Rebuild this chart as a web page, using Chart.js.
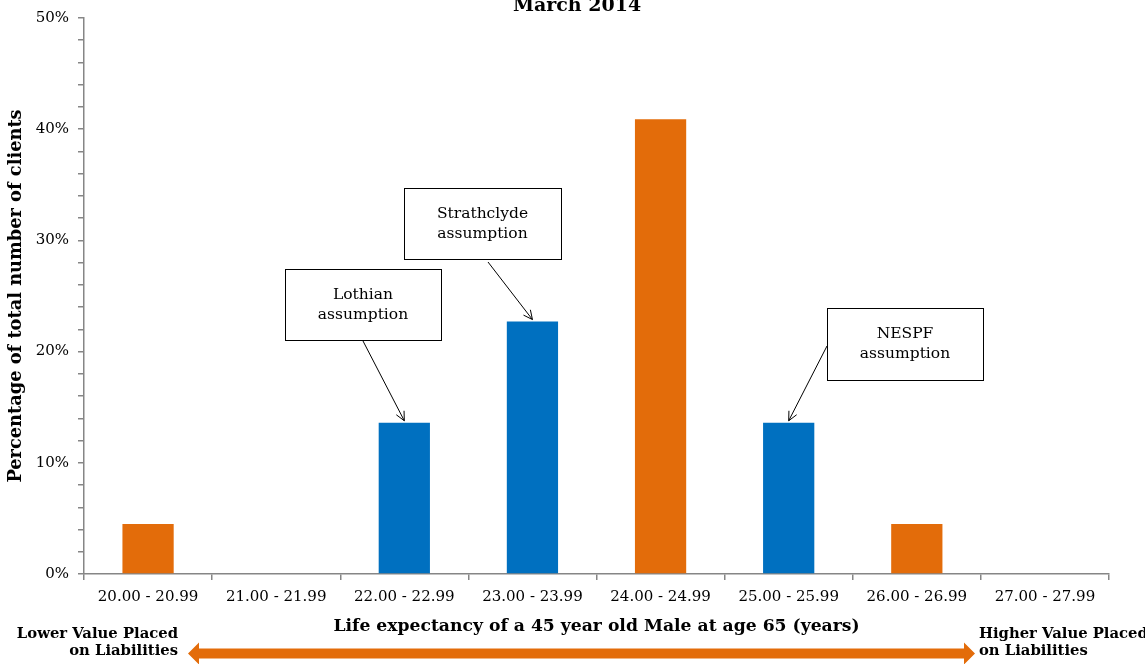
<!DOCTYPE html>
<html>
<head>
<meta charset="utf-8">
<script src="https://cdn.jsdelivr.net/npm/chart.js@4.4.1/dist/chart.umd.min.js"></script>
<style>
  html, body { margin: 0; padding: 0; background: #ffffff; }
  #wrap { width: 1145px; height: 664px; position: relative; }
</style>
</head>
<body>
<div id="wrap"><canvas id="chart" width="1145" height="664"></canvas></div>
<script>
// Life expectancy bands (years) for a 45 year old male at age 65
const categories = ['20.00 - 20.99', '21.00 - 21.99', '22.00 - 22.99', '23.00 - 23.99',
                    '24.00 - 24.99', '25.00 - 25.99', '26.00 - 26.99', '27.00 - 27.99'];
// Share of clients in each band (%)
const shares = [4.5, 0, 13.6, 22.7, 40.9, 13.6, 4.5, 0];
// Bands that hold a named fund's assumption are shown in blue
const fundBand = [false, false, true, true, false, true, false, false];
const yTickLabels = [0, 10, 20, 30, 40, 50];

// Callout boxes pointing at fund bands
const calloutText = [['Lothian', 'assumption'], ['Strathclyde', 'assumption'], ['NESPF', 'assumption']];
const calloutBand = [2, 3, 5];

const ORANGE = '#E36C0A';
const BLUE = '#0070C0';
const AXIS = '#868686';
const SERIF = '"DejaVu Serif", Georgia, serif';

// Box rectangles [x, y, w, h] and where each pointer leaves its box
const calloutBoxes = [[285, 269, 156, 71], [404, 188, 157, 71], [827, 308, 156, 72]];
const calloutFrom = [[363, 341], [488, 262], [827, 346]];

function arrowLine(ctx, x0, y0, x1, y1, head) {
  ctx.beginPath();
  ctx.moveTo(x0, y0);
  ctx.lineTo(x1, y1);
  const a = Math.atan2(y1 - y0, x1 - x0);
  ctx.moveTo(x1 - head * Math.cos(a - 0.45), y1 - head * Math.sin(a - 0.45));
  ctx.lineTo(x1, y1);
  ctx.lineTo(x1 - head * Math.cos(a + 0.45), y1 - head * Math.sin(a + 0.45));
  ctx.stroke();
}

const decorations = {
  id: 'decorations',
  afterDraw(chart) {
    const ctx = chart.ctx;
    const xs = chart.scales.x, ys = chart.scales.y;
    ctx.save();

    // Title, partly above the canvas edge
    ctx.fillStyle = '#000';
    ctx.font = 'bold 19px ' + SERIF;
    ctx.textAlign = 'center';
    ctx.textBaseline = 'alphabetic';
    ctx.fillText('March 2014', 577, 11);

    // Callouts
    ctx.font = '15.5px ' + SERIF;
    ctx.lineWidth = 1;
    ctx.strokeStyle = '#000';
    calloutText.forEach((lines, i) => {
      const [bx, by, bw, bh] = calloutBoxes[i];
      ctx.fillStyle = '#fff';
      ctx.fillRect(bx, by, bw, bh);
      ctx.strokeRect(bx + 0.5, by + 0.5, bw, bh);
      ctx.fillStyle = '#000';
      ctx.textBaseline = 'middle';
      ctx.fillText(lines[0], bx + bw / 2, by + bh / 2 - 10);
      ctx.fillText(lines[1], bx + bw / 2, by + bh / 2 + 10);
      const k = calloutBand[i];
      const tx = xs.getPixelForValue(k);
      const ty = ys.getPixelForValue(shares[k]) - 2;
      const [fx, fy] = calloutFrom[i];
      arrowLine(ctx, fx, fy, tx, ty, 10);
    });

    // Direction arrow along the bottom
    const ax0 = 188, ax1 = 975, ay = 653.5, hl = 11, hh = 11, sh = 5;
    ctx.fillStyle = ORANGE;
    ctx.beginPath();
    ctx.moveTo(ax0, ay);
    ctx.lineTo(ax0 + hl, ay - hh);
    ctx.lineTo(ax0 + hl, ay - sh);
    ctx.lineTo(ax1 - hl, ay - sh);
    ctx.lineTo(ax1 - hl, ay - hh);
    ctx.lineTo(ax1, ay);
    ctx.lineTo(ax1 - hl, ay + hh);
    ctx.lineTo(ax1 - hl, ay + sh);
    ctx.lineTo(ax0 + hl, ay + sh);
    ctx.lineTo(ax0 + hl, ay + hh);
    ctx.closePath();
    ctx.fill();

    ctx.fillStyle = '#000';
    ctx.font = 'bold 14.8px ' + SERIF;
    ctx.textBaseline = 'middle';
    ctx.textAlign = 'right';
    ctx.fillText('Lower Value Placed', 178, 634);
    ctx.fillText('on Liabilities', 178, 651);
    ctx.textAlign = 'left';
    ctx.fillText('Higher Value Placed', 979, 634);
    ctx.fillText('on Liabilities', 979, 651);
    ctx.restore();
  }
};

new Chart(document.getElementById('chart'), {
  type: 'bar',
  data: {
    labels: categories,
    datasets: [{
      data: shares,
      backgroundColor: fundBand.map(f => f ? BLUE : ORANGE),
      borderWidth: 0,
      barPercentage: 0.4,
      categoryPercentage: 1.0
    }]
  },
  options: {
    responsive: false,
    animation: false,
    devicePixelRatio: 1,
    layout: { padding: { top: 15, right: 36, left: 0, bottom: 0 } },
    plugins: { legend: { display: false }, tooltip: { enabled: false }, title: { display: false } },
    scales: {
      x: {
        grid: { display: true, drawOnChartArea: false, offset: true, tickLength: 6, color: AXIS, lineWidth: 1.5 },
        border: { color: AXIS, width: 1.5 },
        ticks: { color: '#000', font: { family: SERIF, size: 15 }, padding: 8, maxRotation: 0, autoSkip: false },
        title: {
          display: true,
          text: 'Life expectancy of a 45 year old Male at age 65 (years)',
          color: '#000',
          font: { family: SERIF, size: 17.2, weight: 'bold' },
          padding: { top: 0, bottom: 27 }
        },
        afterFit(scale) { scale.height = 90; }
      },
      y: {
        min: 0,
        max: 50,
        grid: { display: true, drawOnChartArea: false, tickLength: 6, color: AXIS, lineWidth: 1.5 },
        border: { color: AXIS, width: 1.5 },
        ticks: {
          stepSize: 2,
          color: '#000',
          font: { family: SERIF, size: 15 },
          padding: 9,
          callback: v => yTickLabels.includes(v) ? v + '%' : ''
        },
        title: {
          display: true,
          text: 'Percentage of total number of clients',
          color: '#000',
          font: { family: SERIF, size: 17.8, weight: 'bold' },
          padding: { top: 6, bottom: 0 }
        },
        afterFit(scale) { scale.width = 84; }
      }
    }
  },
  plugins: [decorations]
});
</script>
</body>
</html>
